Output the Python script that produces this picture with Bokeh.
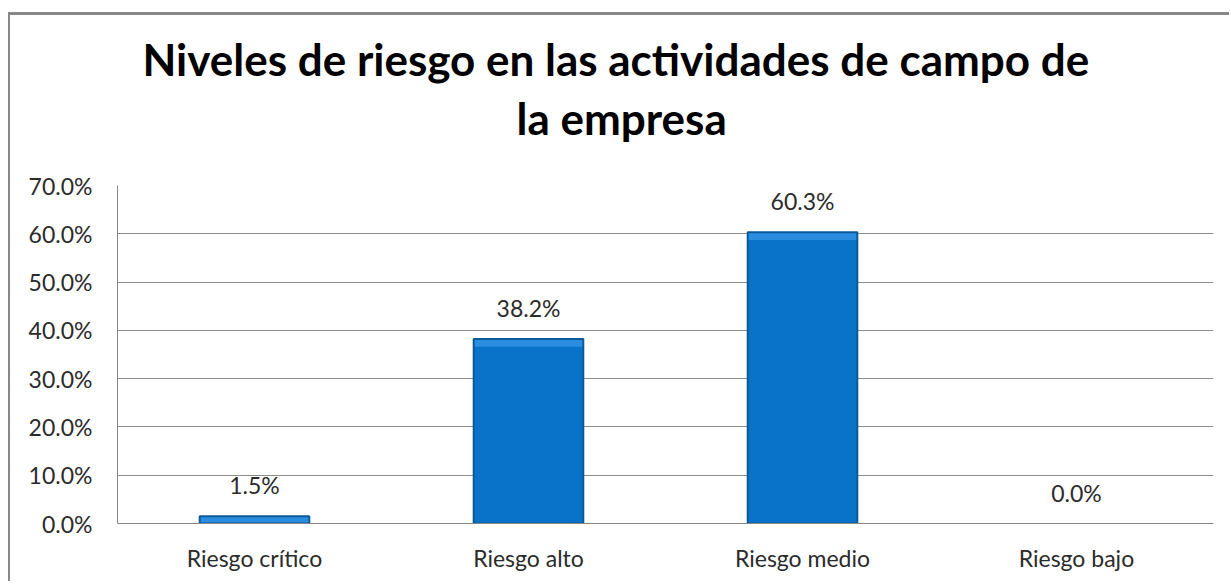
from bokeh.plotting import figure
from bokeh.models import (Title, LabelSet, ColumnDataSource, PrintfTickFormatter,
                          FixedTicker, Range1d)
from bokeh.core.properties import value
from bokeh.embed import file_html
from bokeh.resources import INLINE

categories = ["Riesgo crítico", "Riesgo alto", "Riesgo medio", "Riesgo bajo"]
values = [1.5, 38.2, 60.3, 0.0]
value_labels = ["1.5%", "38.2%", "60.3%", "0.0%"]
y_ticks = [0, 10, 20, 30, 40, 50, 60, 70]
title_line1 = "Niveles de riesgo en las actividades de campo de"
title_line2 = "la empresa"

FONT = "Lato"
TXT = "#2b2b2b"
BEVEL = 1.6  # depth of the lighter top bevel, in axis units

edge_colors = ["#0B5A98" if v > 0 else "rgba(0,0,0,0)" for v in values]
bevel_bottom = [max(0.0, v - BEVEL) for v in values]
src = ColumnDataSource(dict(cat=categories, val=values, lab=value_labels,
                            edge=edge_colors, bev=bevel_bottom))

p = figure(x_range=categories, y_range=Range1d(0, 70), width=1221, height=569,
           output_backend="svg", toolbar_location=None,
           min_border_left=107, min_border_right=18, min_border_bottom=61, min_border_top=170)
p.title = None
p.styles = {"border-top": "3px solid #888888", "border-left": "2px solid #888888",
            "margin-top": "12px", "margin-left": "8px"}

t2 = Title(text=title_line2, align="left", offset=399, text_font=FONT, text_font_size="44px",
           text_font_style="bold", text_color="#000000", standoff=84)
t1 = Title(text=title_line1, align="left", offset=25, text_font=FONT, text_font_size="44px",
           text_font_style="bold", text_color="#000000", standoff=-74)
p.add_layout(t2, "above")
p.add_layout(t1, "above")

p.vbar(x="cat", top="val", width=0.4, source=src, fill_color="#0873C8", line_color=None)
p.vbar(x="cat", top="val", bottom="bev", width=0.4, source=src, fill_color="#2A8DE0",
       line_color=None)
p.vbar(x="cat", top="val", width=0.4, source=src, fill_color=None,
       line_color="edge", line_width=2)

p.add_layout(LabelSet(x="cat", y="val", text="lab", source=src, text_align="center",
                      text_baseline="bottom", y_offset=17, text_font=value(FONT),
                      text_font_size="23px", text_color=TXT))

p.yaxis.ticker = FixedTicker(ticks=y_ticks)
p.yaxis.formatter = PrintfTickFormatter(format="%.1f%%")
for ax in (p.xaxis, p.yaxis):
    ax.major_label_text_font = FONT
    ax.major_label_text_font_size = "23px"
    ax.major_label_text_color = TXT
    ax.axis_line_color = "#888888"
    ax.major_tick_line_color = None
    ax.minor_tick_line_color = None
p.yaxis.major_label_standoff = 19
p.xaxis.major_label_standoff = 14
p.xgrid.grid_line_color = None
p.ygrid.grid_line_color = "#8c8c8c"
p.outline_line_color = None
p.x_range.range_padding = 0

open("out.html", "w").write(file_html(p, INLINE))
